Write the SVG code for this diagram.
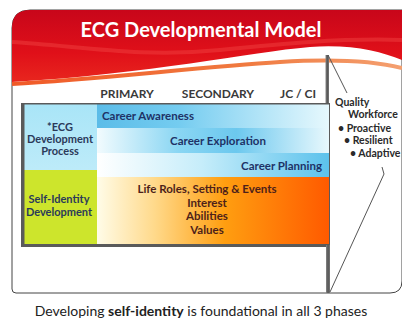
<svg xmlns="http://www.w3.org/2000/svg" width="402" height="325" viewBox="0 0 402 325">
<defs>
<linearGradient id="red" x1="0" y1="0" x2="0" y2="1">
<stop offset="0" stop-color="#C8061A"/><stop offset="0.6" stop-color="#E01019"/><stop offset="1" stop-color="#E8261E"/>
</linearGradient>
<linearGradient id="orl" x1="0" y1="0" x2="1" y2="0">
<stop offset="0" stop-color="#F05A28"/><stop offset="0.6" stop-color="#F07A40"/><stop offset="1" stop-color="#F4A070"/>
</linearGradient>
<linearGradient id="bar" x1="0" y1="0" x2="1" y2="0">
<stop offset="0" stop-color="#888"/><stop offset="0.5" stop-color="#555"/><stop offset="1" stop-color="#777"/>
</linearGradient>
<linearGradient id="r1" x1="97" y1="0" x2="329" y2="0" gradientUnits="userSpaceOnUse">
<stop offset="0" stop-color="#5BBCE8"/><stop offset="0.35" stop-color="#74CCF0"/><stop offset="1" stop-color="#E6F8FD"/>
</linearGradient>
<linearGradient id="r2" x1="97" y1="0" x2="329" y2="0" gradientUnits="userSpaceOnUse">
<stop offset="0" stop-color="#F2FBFE"/><stop offset="0.35" stop-color="#8AD6F3"/><stop offset="0.6" stop-color="#6CC8EE"/><stop offset="1" stop-color="#E8F8FD"/>
</linearGradient>
<linearGradient id="r3" x1="97" y1="0" x2="329" y2="0" gradientUnits="userSpaceOnUse">
<stop offset="0" stop-color="#FFFFFF"/><stop offset="0.45" stop-color="#C6EDFA"/><stop offset="1" stop-color="#5CC2EC"/>
</linearGradient>
<linearGradient id="r4" x1="97" y1="0" x2="329" y2="0" gradientUnits="userSpaceOnUse">
<stop offset="0" stop-color="#FFFCE8"/><stop offset="0.25" stop-color="#FFD98A"/><stop offset="0.55" stop-color="#FF9E10"/><stop offset="1" stop-color="#FF5A00"/>
</linearGradient>
<linearGradient id="lc" x1="0" y1="0" x2="0" y2="1">
<stop offset="0" stop-color="#A9E5F7"/><stop offset="1" stop-color="#BDEBF9"/>
</linearGradient>
</defs>
<style>
.t{font-family:Lato,"Open Sans",sans-serif;font-weight:bold;}
.hd{font-size:12px;fill:#3a3a3a;text-anchor:middle;}
.lc{font-size:11px;fill:#2B3A5A;text-anchor:middle;}
.cr{font-size:11.5px;fill:#1E3266;}
.or{font-size:11.5px;fill:#4D1F1A;text-anchor:middle;}
.rt{font-size:10.5px;fill:#2a2a2a;}
.ln{fill:none;stroke:#555;stroke-width:1;}
</style>
<rect width="402" height="325" fill="#fff"/>
<g id="card">
<path d="M12,28 Q12,10 30,10 L402,10 L402,281 Q402,293 390,293 L16,293 Q12,293 12,289 Z" fill="#fff" stroke="#444" stroke-width="1"/>
<path d="M12,28 Q12,10 30,10 L402,10 L402,60 C380,51 350,44 310,47 C250,52 150,74 12,82 Z" fill="url(#red)"/>
<path d="M12,42 C80,46 140,58 220,50 C280,44 340,38 402,40" fill="none" stroke="#F04040" stroke-width="4" opacity="0.5"/>
<path d="M12,84 C100,79 200,67 280,62 C330,59 370,60 402,68" fill="none" stroke="url(#orl)" stroke-width="4"/>
<text class="t" x="201" y="37" font-size="20" fill="#fff" text-anchor="middle">ECG Developmental Model</text>
</g>
<g id="headers">
<text class="t hd" x="127" y="98">PRIMARY</text>
<text class="t hd" x="218" y="98">SECONDARY</text>
<text class="t hd" x="298" y="98">JC / CI</text>
</g>
<g id="frame">
<rect x="325.5" y="55" width="3.5" height="50" fill="url(#bar)"/>
<rect x="21" y="103" width="309" height="144" fill="#5a5a5a"/>
<rect x="326" y="245" width="4" height="48" fill="url(#bar)"/>
</g>
<g id="ecg-process">
<rect x="24.5" y="104.5" width="72.5" height="65.5" fill="url(#lc)"/>
<text class="t lc" x="60" y="131">*ECG</text>
<text class="t lc" x="60" y="143">Development</text>
<text class="t lc" x="60" y="155">Process</text>
</g>
<g id="self-identity">
<rect x="24.5" y="170" width="72.5" height="74" fill="#CDE52C"/>
<text class="t lc" x="59" y="203">Self-Identity</text>
<text class="t lc" x="59" y="216">Development</text>
</g>
<g id="career-awareness">
<rect x="97" y="104.5" width="232" height="23.5" fill="url(#r1)"/>
<text class="t cr" x="102" y="120">Career Awareness</text>
</g>
<g id="career-exploration">
<rect x="97" y="128" width="232" height="25" fill="url(#r2)"/>
<text class="t cr" x="218" y="145" text-anchor="middle">Career Exploration</text>
</g>
<g id="career-planning">
<rect x="97" y="153" width="232" height="24" fill="url(#r3)"/>
<text class="t cr" x="322" y="170" text-anchor="end">Career Planning</text>
</g>
<g id="life-roles">
<rect x="97" y="177" width="232" height="67" fill="url(#r4)"/>
<text class="t or" x="207" y="193">Life Roles, Setting &amp; Events</text>
<text class="t or" x="207" y="207">Interest</text>
<text class="t or" x="207" y="220">Abilities</text>
<text class="t or" x="207" y="234">Values</text>
</g>
<g id="quality-workforce">
<text class="t rt" x="335" y="106">Quality</text>
<text class="t rt" x="348" y="118">Workforce</text>
<text class="t rt" x="338" y="132">• Proactive</text>
<text class="t rt" x="344" y="144">• Resilient</text>
<text class="t rt" x="350" y="157">• Adaptive</text>
</g>
<g id="connectors">
<path class="ln" d="M328,55 L347,93"/>
<path class="ln" d="M382,167 L384,174 L330,292"/>
</g>
<text x="201" y="316" font-family="Lato,'Open Sans',sans-serif" font-size="14" fill="#222" text-anchor="middle">Developing <tspan font-weight="bold">self-identity</tspan> is foundational in all 3 phases</text>
</svg>
